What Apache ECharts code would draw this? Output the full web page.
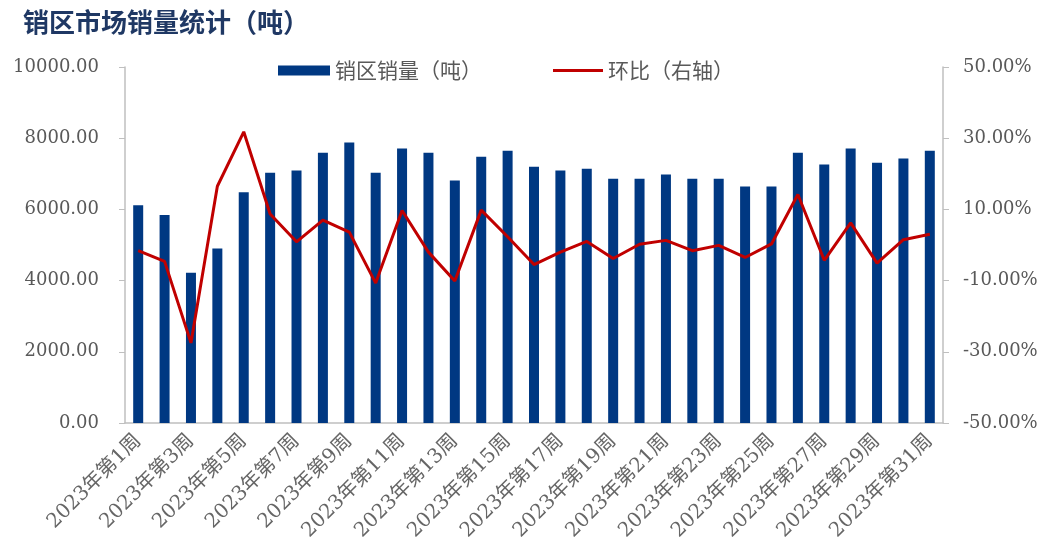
<!DOCTYPE html>
<html>
<head>
<meta charset="utf-8">
<title>销区市场销量统计</title>
<script src="https://cdn.jsdelivr.net/npm/echarts@6/dist/echarts.min.js"></script>
<style>
	html, body { margin: 0; padding: 0; background: #fff; }
	#main { width: 1054px; height: 558px; }
</style>
</head>
<body>
<div id="main"></div>
<script>
// 周次（横轴）
var weeks = ["2023年第1周", "2023年第2周", "2023年第3周", "2023年第4周", "2023年第5周", "2023年第6周",
	"2023年第7周", "2023年第8周", "2023年第9周", "2023年第10周", "2023年第11周", "2023年第12周",
	"2023年第13周", "2023年第14周", "2023年第15周", "2023年第16周", "2023年第17周", "2023年第18周",
	"2023年第19周", "2023年第20周", "2023年第21周", "2023年第22周", "2023年第23周", "2023年第24周",
	"2023年第25周", "2023年第26周", "2023年第27周", "2023年第28周", "2023年第29周", "2023年第30周",
	"2023年第31周"];
// 销区销量（吨）
var sales = [6120, 5840, 4220, 4900, 6480, 7030, 7090, 7590, 7880, 7030, 7710, 7590, 6810, 7480, 7650, 7200,
	7090, 7140, 6860, 6860, 6980, 6860, 6860, 6640, 6640, 7590, 7260, 7710, 7310, 7430, 7650];
// 环比（%，右轴）
var ratio = [-1.6, -4.6, -27.5, 16.5, 31.8, 8.7, 0.9, 7.0, 3.6, -10.7, 9.7, -2.0, -10.1, 9.8, 2.3, -5.5,
	-2.0, 1.0, -3.8, 0.2, 1.3, -1.6, -0.1, -3.5, 0.3, 14.2, -4.3, 6.2, -5.1, 1.5, 3.0];

var myChart = echarts.init(document.getElementById('main'));
var grey = '#595959';
var lineGrey = '#BFBFBF';
var numFont = "'DejaVu Serif', 'Noto Sans CJK SC', serif";
var cjkFont = "'Noto Sans CJK SC', sans-serif";

var option = {
	animation: false,
	backgroundColor: '#fff',
	title: {
		text: '销区市场销量统计（吨）',
		left: 18,
		top: 4,
		textStyle: {
			fontFamily: cjkFont,
			fontWeight: 'bold',
			fontSize: 26,
			color: '#1F3864'
		}
	},
	legend: [{
		data: [{ name: '销区销量（吨）', icon: 'rect' }],
		left: 273,
		top: 55,
		itemWidth: 52,
		itemHeight: 10,
		itemGap: 4,
		textStyle: { color: grey, fontSize: 21, fontFamily: cjkFont }
	}, {
		data: [{ name: '环比（右轴）', icon: 'rect' }],
		left: 548,
		top: 55,
		itemWidth: 50,
		itemHeight: 3,
		textStyle: { color: grey, fontSize: 21, fontFamily: cjkFont }
	}],
	grid: {
		left: 125,
		right: 111,
		top: 67,
		bottom: 135
	},
	xAxis: {
		type: 'category',
		data: weeks,
		axisLine: { lineStyle: { color: lineGrey, width: 1.5 } },
		axisTick: { show: false },
		axisLabel: {
			interval: 1,
			rotate: 45,
			margin: 15,
			color: '#666666',
			fontSize: 20,
			fontFamily: numFont
		}
	},
	yAxis: [{
		type: 'value',
		min: 0,
		max: 10000,
		interval: 2000,
		splitLine: { show: false },
		axisLine: { show: true, lineStyle: { color: lineGrey, width: 1.5 } },
		axisTick: { show: true, length: 6, lineStyle: { color: lineGrey } },
		axisLabel: {
			margin: 26,
			color: grey,
			fontSize: 18,
			fontFamily: numFont,
			formatter: function(v) { return v.toFixed(2); }
		}
	}, {
		type: 'value',
		min: -50,
		max: 50,
		interval: 20,
		position: 'right',
		splitLine: { show: false },
		axisLine: { show: true, lineStyle: { color: lineGrey, width: 1.5 } },
		axisTick: { show: true, length: 6, lineStyle: { color: lineGrey } },
		axisLabel: {
			margin: 20,
			color: grey,
			fontSize: 18,
			fontFamily: numFont,
			formatter: function(v) { return v.toFixed(2) + '%'; }
		}
	}],
	series: [{
		name: '销区销量（吨）',
		type: 'bar',
		data: sales,
		barWidth: 10,
		itemStyle: { color: '#003882' }
	}, {
		name: '环比（右轴）',
		type: 'line',
		yAxisIndex: 1,
		data: ratio,
		symbol: 'none',
		lineStyle: { color: '#C00000', width: 3 },
		itemStyle: { color: '#C00000' }
	}]
};

myChart.setOption(option);
</script>
</body>
</html>
